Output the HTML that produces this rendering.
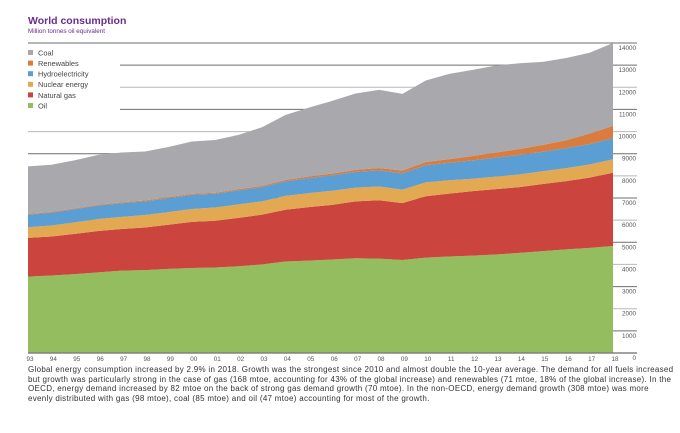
<!DOCTYPE html>
<html><head><meta charset="utf-8"><style>
body{margin:0;background:#fff;font-family:"Liberation Sans",sans-serif;}
#wrap{position:relative;width:680px;height:433px;overflow:hidden;}
.cap{position:absolute;left:28px;top:365px;width:660px;font-size:8px;line-height:9.7px;letter-spacing:0.29px;color:#333;white-space:nowrap;}
</style></head><body>
<div id="wrap">
<svg id="svg" width="680" height="433"></svg>
<div class="cap">Global energy consumption increased by 2.9% in 2018. Growth was the strongest since 2010 and almost double the 10-year average. The demand for all fuels increased<br>but growth was particularly strong in the case of gas (168 mtoe, accounting for 43% of the global increase) and renewables (71 mtoe, 18% of the global increase). In the<br>OECD, energy demand increased by 82 mtoe on the back of strong gas demand growth (70 mtoe). In the non-OECD, energy demand growth (308 mtoe) was more<br>evenly distributed with gas (98 mtoe), coal (85 mtoe) and oil (47 mtoe) accounting for most of the growth.</div>
</div>
<script>
const years=["93","94","95","96","97","98","99","00","01","02","03","04","05","06","07","08","09","10","11","12","13","14","15","16","17","18"];
const oil=[3450,3500,3560,3640,3720,3740,3800,3840,3860,3920,4000,4130,4170,4220,4280,4260,4200,4310,4360,4400,4450,4520,4600,4680,4750,4830];
const gas=[1750,1760,1820,1870,1880,1930,1990,2080,2110,2180,2250,2340,2420,2470,2570,2640,2570,2770,2840,2910,2950,2970,3030,3080,3170,3310];
const nuclear=[480,500,520,540,545,560,570,585,600,610,600,625,630,635,620,620,610,625,600,560,565,575,580,590,595,610];
const hydro=[570,580,600,610,620,620,630,640,620,640,640,660,680,700,710,730,740,780,790,830,860,880,880,900,920,950];
const renewables=[30,32,34,36,38,40,42,45,48,52,56,62,70,80,90,105,120,140,165,195,230,270,310,360,480,560];
const coal=[2150,2130,2170,2250,2250,2210,2270,2360,2380,2450,2650,2930,3110,3280,3450,3530,3460,3680,3850,3890,3930,3870,3750,3710,3645,3740];
const yTicks=[0,1000,2000,3000,4000,5000,6000,7000,8000,9000,10000,11000,12000,13000,14000];
const series=[["Oil",oil,"#94bd5f"],["Natural gas",gas,"#cb443d"],["Nuclear energy",nuclear,"#e3a852"],["Hydroelectricity",hydro,"#5a9ed4"],["Renewables",renewables,"#d97c40"],["Coal",coal,"#a9a8ad"]];
const NS="http://www.w3.org/2000/svg";
const svg=document.getElementById('svg');
const X0=28,X1=613,Y0=353,Y14=43;
const x=i=>X0+i*(X1-X0)/(years.length-1);
const y=v=>Y0-(v/14000)*(Y0-Y14);
function mk(t,a,p){const e=document.createElementNS(NS,t);for(const k in a)e.setAttribute(k,a[k]);(p||svg).appendChild(e);return e;}
yTicks.forEach((v,k)=>{
  const yy=y(v);
  const x0=(v===14000)?X0:(yy<115?120:X0);
  const l=mk('line',{x1:x0,x2:637,y1:yy,y2:yy,stroke:(k%2===1||v===14000)?'#6e6e6e':'#b8b8b8','stroke-width':v===0?1.2:1});
  
  
  const t=mk('text',{x:636,y:yy+7,'text-anchor':'end','font-size':'6.3',fill:'#555'});
  t.textContent=v;
  
  
});
let base=years.map(()=>0);
series.forEach(s=>{
  const top=base.map((b,i)=>b+s[1][i]);
  let d='M'+x(0)+','+y(top[0]);
  for(let i=1;i<years.length;i++)d+='L'+x(i)+','+y(top[i]);
  for(let i=years.length-1;i>=0;i--)d+='L'+x(i)+','+y(base[i]);
  const p=mk('path',{d:d+'Z',fill:s[2]});
  
  
  base=top;
});
mk('line',{x1:X0,x2:637,y1:Y0,y2:Y0,stroke:'#777','stroke-width':1.2});
years.forEach((yr,i)=>{
  const t=mk('text',{x:x(i)+2,y:361,'text-anchor':'middle','font-size':'6.3',fill:'#555'});
  t.textContent=yr;
  
  
});
const ti=mk('text',{x:28,y:24,'font-size':'10.5','font-weight':'bold',fill:'#6a2c8e'});ti.textContent='World consumption';


const st=mk('text',{x:28,y:33,'font-size':'6.3',fill:'#6a2c8e'});st.textContent='Million tonnes oil equivalent';


const leg=[["Coal","#a9a8ad"],["Renewables","#d97c40"],["Hydroelectricity","#5a9ed4"],["Nuclear energy","#e3a852"],["Natural gas","#cb443d"],["Oil","#94bd5f"]];
leg.forEach((l,i)=>{
  const g=mk('g',{});
  
  
  const yy=50+i*10.6;
  mk('rect',{x:28,y:yy,width:5,height:5,fill:l[1]},g);
  const t=mk('text',{x:38,y:yy+5.4,'font-size':'7.4',fill:'#444'},g);t.textContent=l[0];
});
</script>
</body></html>
